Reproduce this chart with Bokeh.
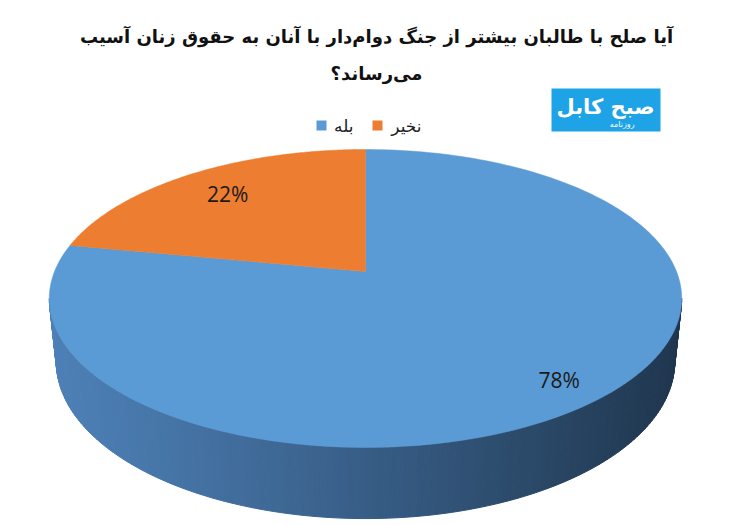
import numpy as np
from bokeh.plotting import figure
from bokeh.models import Range1d
from bokeh.core.properties import value
from bokeh.embed import file_html
from bokeh.resources import INLINE

# ---- data ----
categories = ["بله", "نخیر"]
shares = [78, 22]
labels = ["78%", "22%"]
colors = ["#5b9bd5", "#ed7d31"]
title_lines = ["آیا صلح با طالبان بیشتر از جنگ دوام\u200cدار با آنان به حقوق زنان آسیب",
               "می\u200cرساند؟"]
logo_main = "صبح کابل"
logo_sub = "روزنامه"

# ---- 3D pie geometry (pixel-like data space) ----
CX, CY = 365.0, 271.0
S = 311.0
T = np.arcsin(0.4633)
KP = 0.2043
H = 0.231
LABEL_R = [0.86, 0.77]


def proj(a, r=1.0, hh=0.0):
    X = r * np.cos(a)
    Z = r * np.sin(a)
    yc = Z * np.sin(T) + hh * np.cos(T)
    zc = Z * np.cos(T) - hh * np.sin(T)
    d = 1 + KP * zc
    return CX + S * X / d, CY - S * yc / d


def mix(c1, c2, t):
    a = [int(c1[i:i + 2], 16) for i in (1, 3, 5)]
    b = [int(c2[i:i + 2], 16) for i in (1, 3, 5)]
    return "#%02x%02x%02x" % tuple(int(round(a[k] + (b[k] - a[k]) * t)) for k in range(3))


p = figure(width=750, height=525, output_backend="svg", toolbar_location=None,
           x_range=Range1d(0, 750), y_range=Range1d(525, 0),
           x_axis_type=None, y_axis_type=None, min_border=0)
p.outline_line_color = None
p.xgrid.visible = False
p.ygrid.visible = False
p.background_fill_color = "white"

# side (front half) with horizontal gradient
k = KP * np.cos(T)
a_left = np.pi + np.arcsin(k)
a_right = 2 * np.pi - np.arcsin(k)
N = 160
angs = np.linspace(a_left, a_right, N + 1)
tx, ty = proj(angs, 1.0, 0.0)
bx, by = proj(angs, 1.0, -H)
xmin, xmax = tx.min(), tx.max()
xs, ys, cs = [], [], []
for i in range(N):
    xs.append([tx[i], tx[i + 1], bx[i + 1], bx[i]])
    ys.append([ty[i], ty[i + 1], by[i + 1], by[i]])
    t = ((tx[i] + tx[i + 1]) / 2 - xmin) / (xmax - xmin)
    cs.append(mix("#4d80b7", "#1f364e", t ** 1.1))
p.patches(xs, ys, fill_color=cs, line_color=cs, line_width=1)

# top slices: orange (second) counter-clockwise from 12 o'clock, blue takes the rest
start = np.pi / 2
total = sum(shares)
a_or_end = start + 2 * np.pi * shares[1] / total
spans = {1: (start, a_or_end), 0: (a_or_end, start + 2 * np.pi)}
for idx in (0, 1):
    s0, s1 = spans[idx]
    aa = np.linspace(s0, s1, 200)
    px, py = proj(aa)
    px = np.concatenate([[CX], px, [CX]])
    py = np.concatenate([[CY], py, [CY]])
    p.patch(px, py, fill_color=colors[idx], line_color=colors[idx], line_width=0.5)

# data labels
for idx in (0, 1):
    s0, s1 = spans[idx]
    mid = (s0 + s1) / 2
    lx, ly = proj(mid, LABEL_R[idx])
    p.text([lx], [ly], text=[labels[idx]], text_align="center", text_baseline="middle",
           text_font=value("Liberation Sans Narrow, Open Sans"), text_font_size="21px",
           text_color="#1a1a1a")

# title
for line, yy in zip(title_lines, [36, 73]):
    p.text([376], [yy], text=[line], text_align="center", text_baseline="middle",
           text_font=value("DejaVu Sans"), text_font_style="bold", text_font_size="18px",
           text_color="#111111")

# legend
p.quad(left=[316], right=[326], top=[120], bottom=[130], fill_color=colors[0], line_color=None)
p.text([353], [125], text=[categories[0]], text_align="right", text_baseline="middle",
       text_font=value("DejaVu Sans"), text_font_size="17px", text_color="#222222")
p.quad(left=[372], right=[382], top=[120], bottom=[130], fill_color=colors[1], line_color=None)
p.text([421], [125], text=[categories[1]], text_align="right", text_baseline="middle",
       text_font=value("DejaVu Sans"), text_font_size="17px", text_color="#222222")

# logo
p.quad(left=[551], right=[660], top=[88], bottom=[131], fill_color="#1ea3e6", line_color=None)
p.text([605], [106], text=[logo_main], text_align="center", text_baseline="middle",
       text_font=value("DejaVu Sans"), text_font_style="bold", text_font_size="21px",
       text_color="white")
p.text([634], [124], text=[logo_sub], text_align="right", text_baseline="middle",
       text_font=value("DejaVu Sans"), text_font_size="8px", text_color="white")

open("out.html", "w").write(file_html(p, INLINE))
